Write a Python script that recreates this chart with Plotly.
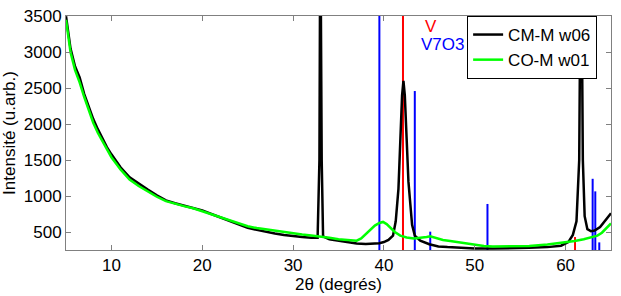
import plotly.graph_objects as go

# --- Data ---
cm_x = [5.0, 5.5, 6.0, 6.5, 7.0, 7.5, 8.0, 8.5, 9.0, 9.5, 10.0, 11.0, 12.0, 13.0, 14.0, 15.0,
        16.0, 17.0, 18.0, 19.0, 20.0, 21.0, 22.0, 23.0, 24.0, 25.0, 26.0, 27.0, 28.0, 29.0,
        30.0, 31.0, 32.0, 32.7, 32.9, 33.0, 33.15, 33.3, 34.0, 35.0, 36.0, 37.0, 38.0, 39.0,
        39.5, 40.0, 40.5, 41.0, 41.3, 41.6, 41.8, 42.0, 42.15, 42.3, 42.5, 42.7, 42.9, 43.1,
        43.4, 44.0, 45.0, 46.0, 47.0, 48.0, 50.0, 52.0, 54.0, 56.0, 58.0, 59.5, 60.3, 60.8,
        61.2, 61.5, 61.7, 61.9, 62.1, 62.4, 62.8, 63.2, 63.8, 64.3, 65.0]
cm_y = [3500, 3050, 2800, 2650, 2420, 2250, 2070, 1930, 1800, 1680, 1580, 1400, 1260, 1170,
        1090, 1010, 940, 900, 870, 840, 800, 750, 700, 650, 600, 560, 530, 500, 480, 460,
        440, 430, 420, 420, 1500, 5000, 1500, 440, 400, 380, 355, 340, 335, 340,
        345, 360, 390, 450, 650, 1100, 1800, 2400, 2600, 2400, 1800, 1200, 900, 600,
        450, 380, 330, 300, 290, 280, 270, 270, 270, 280, 290, 310, 360, 460,
        650, 1500, 5000, 1500, 720, 540, 510, 520, 570, 650, 760]

co_x = [5.0, 5.5, 6.0, 6.5, 7.0, 7.5, 8.0, 8.5, 9.0, 9.5, 10.0, 11.0, 12.0, 13.0, 14.0, 15.0,
        16.0, 17.0, 18.0, 19.0, 20.0, 21.0, 22.0, 23.0, 24.0, 25.0, 26.0, 27.0, 28.0, 29.0,
        30.0, 31.0, 32.0, 33.0, 34.0, 35.0, 36.0, 37.0, 37.5, 38.0, 38.5, 39.0, 39.5, 39.9,
        40.3, 40.7, 41.2, 41.8, 42.5, 43.3, 44.0, 44.7, 45.1, 45.6, 46.5, 47.3, 48.0, 49.0,
        50.0, 51.0, 52.0, 54.0, 56.0, 58.0, 59.0, 60.0, 61.0, 62.0, 63.0, 63.5, 64.0, 64.5, 65.0]
co_y = [3450, 3000, 2750, 2580, 2380, 2200, 2020, 1880, 1760, 1640, 1540, 1370, 1230, 1140,
        1060, 990, 930, 890, 860, 830, 790, 750, 700, 660, 620, 580, 555, 535, 515, 495,
        480, 465, 450, 440, 420, 400, 385, 380, 410, 470, 540, 590, 625, 640,
        610, 560, 500, 450, 425, 410, 415, 430, 440, 420, 390, 375, 360, 340,
        320, 305, 300, 300, 305, 325, 340, 355, 375, 400, 430, 450, 490, 550, 620]

# reference peak positions (2theta) and heights
v_pos = [42.1, 61.04]
v_h = [5000, 430]
v7o3_pos = [39.5, 43.4, 45.1, 51.4, 62.98, 63.27, 63.71]
v7o3_h = [5000, 2460, 505, 890, 1240, 1065, 356]

x_ticks = [10, 20, 30, 40, 50, 60]
y_ticks = [500, 1000, 1500, 2000, 2500, 3000, 3500]


def sticks(pos, h):
    xs, ys = [], []
    for p, v in zip(pos, h):
        xs += [p, p, None]
        ys += [0, v, None]
    return xs, ys


FONT = "Arial"
fig = go.Figure()

bx, by = sticks(v7o3_pos, v7o3_h)
fig.add_trace(go.Scatter(x=bx, y=by, mode="lines", line=dict(color="#0000ff", width=2),
                         showlegend=False, hoverinfo="skip"))
rx, ry = sticks(v_pos, v_h)
fig.add_trace(go.Scatter(x=rx, y=ry, mode="lines", line=dict(color="#ff0000", width=2),
                         showlegend=False, hoverinfo="skip"))
fig.add_trace(go.Scatter(x=cm_x, y=cm_y, mode="lines", name="CM-M w06",
                         line=dict(color="#000000", width=2.5)))
fig.add_trace(go.Scatter(x=co_x, y=co_y, mode="lines", name="CO-M w01",
                         line=dict(color="#00ff00", width=2.5)))

fig.add_annotation(x=44.3, y=3355, text="V", showarrow=False, xanchor="left",
                   font=dict(color="#ff0000", size=17, family=FONT))
fig.add_annotation(x=43.9, y=3100, text="V7O3", showarrow=False, xanchor="left",
                   font=dict(color="#0000ff", size=17, family=FONT))

axis_common = dict(showline=True, linecolor="#808080", linewidth=1, mirror="ticks",
                   ticks="inside", ticklen=5, tickcolor="#808080", showgrid=False,
                   zeroline=False, ticklabeloverflow="allow",
                   tickfont=dict(size=17, color="#000000", family=FONT))

fig.update_xaxes(range=[5, 65], tickvals=x_ticks,
                 title=dict(text="2θ (degrés)", standoff=2, font=dict(size=17, family=FONT)),
                 **axis_common)
fig.update_yaxes(range=[250, 3503], tickvals=y_ticks,
                 title=dict(text="Intensité (u.arb.)", standoff=4, font=dict(size=17, family=FONT)),
                 **axis_common)

fig.update_layout(
    width=621, height=296,
    margin=dict(l=66, r=10, t=7, b=45),
    paper_bgcolor="white", plot_bgcolor="white",
    font=dict(family=FONT, size=17, color="#000000"),
    legend=dict(x=0.736, y=1.0, xanchor="left", yanchor="top",
                bordercolor="#000000", borderwidth=1, bgcolor="white",
                font=dict(size=17, family=FONT), tracegroupgap=0),
)

fig.write_html("out.html")
